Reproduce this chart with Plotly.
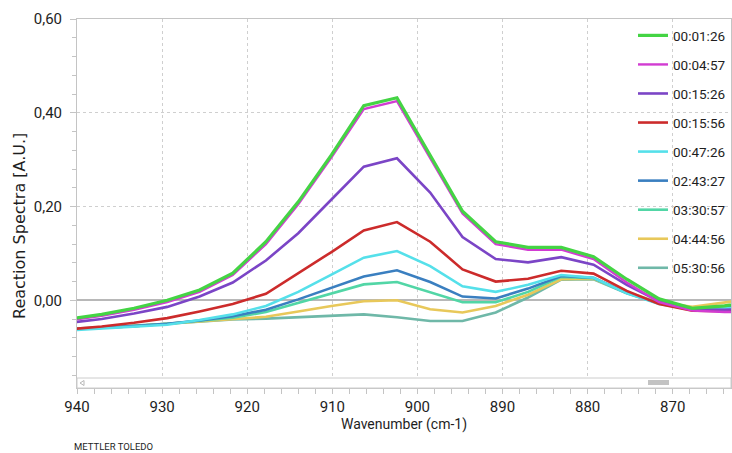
import plotly.graph_objects as go

# ---- data ----
wavenumber = [941.0, 937.1, 933.3, 929.4, 925.6, 921.7, 917.8, 914.0, 910.1, 906.3, 902.4,
              898.5, 894.7, 890.8, 887.0, 883.1, 879.3, 875.4, 871.6, 867.7, 863.9, 860.0]

s_00_01_26 = [-0.040, -0.030, -0.017, 0.000, 0.022, 0.058, 0.125, 0.210, 0.310, 0.415, 0.432,
              0.310, 0.190, 0.125, 0.113, 0.113, 0.093, 0.045, 0.003, -0.017, -0.012, 0.000]
s_00_04_57 = [-0.043, -0.033, -0.020, -0.004, 0.018, 0.054, 0.120, 0.205, 0.305, 0.408, 0.425,
              0.305, 0.185, 0.120, 0.108, 0.108, 0.088, 0.038, -0.004, -0.022, -0.025, -0.024]
s_00_15_26 = [-0.048, -0.040, -0.028, -0.014, 0.008, 0.038, 0.085, 0.143, 0.215, 0.285, 0.303,
              0.230, 0.135, 0.088, 0.081, 0.092, 0.076, 0.033, -0.002, -0.019, -0.020, -0.018]
s_00_15_56 = [-0.062, -0.056, -0.048, -0.038, -0.024, -0.008, 0.014, 0.057, 0.103, 0.149, 0.167,
              0.125, 0.066, 0.040, 0.046, 0.063, 0.057, 0.020, -0.008, -0.022, -0.024, -0.024]
s_00_47_26 = [-0.064, -0.060, -0.057, -0.052, -0.042, -0.030, -0.012, 0.018, 0.055, 0.091, 0.105,
              0.073, 0.030, 0.018, 0.033, 0.054, 0.048, 0.015, -0.008, -0.020, -0.017, -0.014]
s_02_43_27 = [-0.062, -0.059, -0.055, -0.050, -0.043, -0.034, -0.020, 0.002, 0.026, 0.051, 0.064,
              0.039, 0.008, 0.004, 0.025, 0.052, 0.048, 0.016, -0.007, -0.018, -0.015, -0.012]
s_03_30_57 = [-0.062, -0.059, -0.055, -0.050, -0.044, -0.037, -0.025, -0.005, 0.015, 0.034, 0.039,
              0.018, -0.004, -0.004, 0.018, 0.050, 0.047, 0.016, -0.006, -0.017, -0.012, -0.008]
s_04_44_56 = [-0.062, -0.059, -0.055, -0.050, -0.045, -0.040, -0.035, -0.024, -0.012, -0.002, 0.000,
              -0.019, -0.026, -0.012, 0.012, 0.045, 0.046, 0.017, -0.004, -0.014, -0.005, 0.005]
s_05_30_56 = [-0.061, -0.058, -0.054, -0.050, -0.045, -0.041, -0.039, -0.036, -0.034, -0.030, -0.036,
              -0.044, -0.044, -0.026, 0.006, 0.044, 0.045, 0.015, -0.006, -0.016, -0.012, -0.008]

series_names = ["00:01:26", "00:04:57", "00:15:26", "00:15:56", "00:47:26",
                "02:43:27", "03:30:57", "04:44:56", "05:30:56"]
series_values = [s_00_01_26, s_00_04_57, s_00_15_26, s_00_15_56, s_00_47_26,
                 s_02_43_27, s_03_30_57, s_04_44_56, s_05_30_56]

x_tick_values = [940, 930, 920, 910, 900, 890, 880, 870]
y_tick_values = [0.0, 0.2, 0.4, 0.6]

# ---- styles ----
colors = ["#44d444", "#d23cd2", "#7b45c6", "#cc2b2b", "#55e0ea",
          "#3a7fc0", "#52d6a6", "#e8c85a", "#6fb8a8"]
widths = [3.2, 2.4, 2.6, 2.6, 2.6, 2.6, 2.6, 2.6, 2.6]

FONT = "Roboto, Liberation Sans, Arial, sans-serif"
TXT = "#1e1e1e"
GRID = "#cfcfcf"
AXIS = "#c4c4c4"

fig = go.Figure()
# draw last series first so that the first (green) lies on top
for i in reversed(range(len(series_names))):
    fig.add_trace(go.Scatter(
        x=wavenumber, y=series_values[i], name=series_names[i], mode="lines",
        line=dict(color=colors[i], width=widths[i]),
        legendgroup=series_names[i], legendrank=i + 1,
    ))

W, H = 732, 453
L, R, T, B = 77, 1, 19, 65
pw = W - L - R
ph = (H - B) - T

fig.update_layout(
    width=W, height=H,
    margin=dict(l=L, r=R, t=T, b=B, autoexpand=False),
    paper_bgcolor="white", plot_bgcolor="white",
    separators=",.",
    font=dict(family=FONT, size=15, color=TXT),
    showlegend=True,
    legend=dict(
        x=(633 - L) / pw, xanchor="left",
        y=0.997, yanchor="top",
        bgcolor="rgba(0,0,0,0)", borderwidth=0,
        font=dict(family=FONT, size=13.5, color=TXT),
        tracegroupgap=8.5, itemwidth=30,
    ),
    xaxis=dict(
        range=[940, 863.15], tickvals=x_tick_values,
        ticks="outside", ticklen=5, tickcolor=AXIS,
        showgrid=True, gridcolor=GRID, griddash="dot", gridwidth=1,
        showline=True, linecolor=AXIS, linewidth=1, mirror=True,
        zeroline=False,
        minor=dict(dtick=2, tick0=0, ticks="outside", ticklen=5, tickcolor=AXIS, showgrid=False),
        tickfont=dict(family=FONT, size=15, color=TXT),
        title=dict(text="Wavenumber (cm-1)", standoff=4,
                   font=dict(family=FONT, size=14, color=TXT)),
    ),
    yaxis=dict(
        range=[-0.187, 0.6], tickvals=y_tick_values, tickformat=".2f",
        ticks="outside", ticklen=6, tickcolor=AXIS,
        showgrid=True, gridcolor=GRID, griddash="dot", gridwidth=1,
        showline=True, linecolor=AXIS, linewidth=1, mirror=True,
        zeroline=True, zerolinecolor="#b8b8b8", zerolinewidth=1.5,
        minor=dict(dtick=0.04, tick0=0, ticks="outside", ticklen=4, tickcolor=AXIS, showgrid=False),
        tickfont=dict(family=FONT, size=15, color=TXT),
        ticklabelstandoff=5,
    ),
)

# y-axis title
fig.add_annotation(
    text="Reaction Spectra [A.U.]", textangle=-90,
    xref="paper", yref="paper",
    x=-(L - 19) / pw, y=(H - B - 226) / ph,
    xanchor="center", yanchor="middle", showarrow=False,
    font=dict(family="DejaVu Sans, sans-serif", size=16, color=TXT),
)
# brand text
fig.add_annotation(
    text="METTLER TOLEDO", xref="paper", yref="paper",
    x=-(L - 72) / pw, y=-(446 - (H - B)) / ph,
    xanchor="left", yanchor="middle", showarrow=False,
    font=dict(family=FONT, size=9.5, color=TXT),
)

# white panel behind the legend (hides grid lines, not the traces)
fig.add_shape(type="rect", xref="paper", yref="paper",
              x0=(632 - L) / pw, x1=1, y0=(H - B - 283) / ph, y1=1,
              fillcolor="white", line=dict(width=0), layer="between")

# scrollbar decoration at the bottom of the plot area
fig.add_shape(type="rect", xref="paper", yref="paper",
              x0=0, x1=1, y0=0, y1=(H - B - 378) / ph,
              fillcolor="white", line=dict(color="#cccccc", width=1), layer="above")
fig.add_shape(type="rect", xref="paper", yref="paper",
              x0=(648 - L) / pw, x1=(669 - L) / pw,
              y0=(H - B - 385) / ph, y1=(H - B - 380) / ph,
              fillcolor="#c3c3c3", line=dict(width=0), layer="above")
fig.add_shape(type="path", xref="paper", yref="paper",
              path="M {a},{m} L {b},{t} L {b},{u} Z".format(
                  a=(80 - L) / pw, b=(84 - L) / pw,
                  m=(H - B - 383) / ph, t=(H - B - 380.5) / ph, u=(H - B - 385.5) / ph),
              fillcolor="white", line=dict(color="#b8b8b8", width=1), layer="above")

fig.write_html("out.html")
